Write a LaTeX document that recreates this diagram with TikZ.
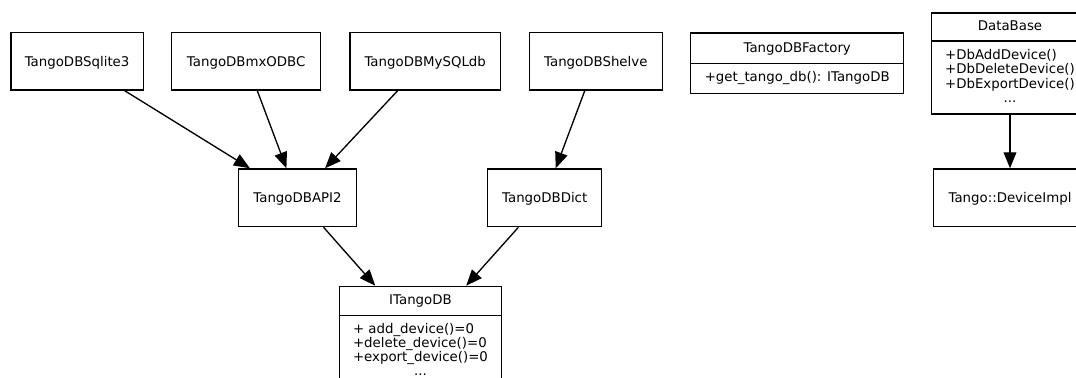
\documentclass[tikz,border=0pt]{standalone}
\usepackage{fontspec}
\setmainfont{DejaVu Sans}
\usetikzlibrary{shapes.multipart,arrows.meta}

\begin{document}
\begin{tikzpicture}[x=0.75pt,y=-0.75pt]
    \tikzstyle{every node}+=[inner sep=0pt, font=\fontsize{10pt}{10.5pt}\selectfont]
    \tikzstyle{cls}=[draw, line width=1pt, minimum height=43.3pt, text height=7.3pt, text depth=0pt]
    \tikzstyle{rec}=[draw, line width=1pt, rectangle split, rectangle split parts=2, anchor=north]
    \tikzstyle{arr}=[line width=1pt, -{Triangle[length=12pt,width=9.6pt]}]
    \path [use as bounding box, clip] (0,0) rectangle (1076,378);
    \node [cls, minimum width=99.2pt] (sqlite) at (77.1,61.2) {TangoDBSqlite3};
    \node [cls, minimum width=111.6pt] (mxodbc) at (246.2,61.2) {TangoDBmxODBC};
    \node [cls, minimum width=113pt] (mysql) at (425.2,61.2) {TangoDBMySQLdb};
    \node [cls, minimum width=99.8pt] (shelve) at (595.8,61.2) {TangoDBShelve};
    \node [cls, minimum width=88.8pt] (api2) at (297.5,197.8) {TangoDBAPI2};
    \node [cls, minimum width=85.5pt] (dict) at (544.7,197.8) {TangoDBDict};
    \node [cls, minimum width=115pt] (devimpl) at (1010,197.8) {Tango::DeviceImpl};
    \node [rec, minimum width=159.8pt] (factory) at (797.2,32.3) {\rule[-8.2pt]{0pt}{22pt}TangoDBFactory\nodepart{two}\rule[-8pt]{0pt}{21.2pt}+get\_tango\_db(): ITangoDB};
    \node [rec, minimum width=117.5pt] (dbase) at (1010,12.3) {\rule[-7.3pt]{0pt}{20pt}DataBase\nodepart{two}\begin{tabular}{@{}l@{}}\rule{0pt}{13.5pt}+DbAddDevice()\\+DbDeleteDevice()\\+DbExportDevice()\\\multicolumn{1}{@{}c@{}}{\rule[-8.3pt]{0pt}{0pt}...}\end{tabular}};
    \node [rec, minimum width=121.8pt] (itdb) at (420.5,285.7) {\rule[-7.5pt]{0pt}{20.7pt}ITangoDB\nodepart{two}\begin{tabular}{@{}l@{}}\rule{0pt}{12.8pt}+ add\_device()=0\\+delete\_device()=0\\+export\_device()=0\\\multicolumn{1}{@{}c@{}}{\rule[-8.3pt]{0pt}{0pt}...}\end{tabular}};
    \draw [arr] (sqlite) -- (api2);
    \draw [arr] (mxodbc) -- (api2);
    \draw [arr] (mysql) -- (api2);
    \draw [arr] (shelve) -- (dict);
    \draw [arr] (api2) -- (itdb);
    \draw [arr] (dict) -- (itdb);
    \draw [arr] (dbase) -- (devimpl);
\end{tikzpicture}
\end{document}
